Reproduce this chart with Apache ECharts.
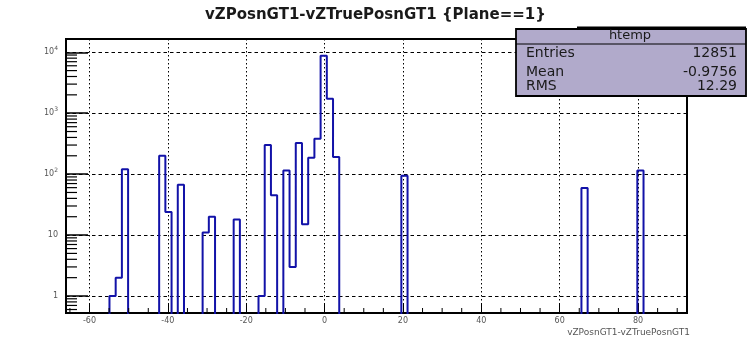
<!DOCTYPE html>
<html><head><meta charset="utf-8">
<script src="https://cdn.jsdelivr.net/npm/echarts@6/dist/echarts.min.js"></script>
<style>html,body{margin:0;padding:0;background:#fff}#c{width:751px;height:337px}</style>
</head><body><div id="c"></div>
<script>
// ---- text ----
const titleText = 'vZPosnGT1-vZTruePosnGT1 {Plane==1}';
const xAxisTitle = 'vZPosnGT1-vZTruePosnGT1';
const histName = 'htemp';
const statLabels = ['Entries', 'Mean', 'RMS'];
const statValues = ['12851', '-0.9756', '12.29'];

// ---- histogram binning & values ----
const xRange = [-66, 92.5];
const yRange = [0.526, 16500];
const nBins = 100;
const binIndex = [7, 8, 9, 15, 16, 18, 22, 23, 27, 31, 32, 33, 35, 36, 37, 38, 39, 40, 41, 42, 43, 54, 83, 92];
const binCount = [1, 2, 120, 200, 24, 67, 11, 20, 18, 1, 300, 45, 115, 3, 325, 15, 186, 382, 8800, 1720, 191, 94, 59, 115];

// ---- tick positions ----
const xMinorTicks = [-65, -55, -50, -45, -35, -30, -25, -15, -10, -5, 5, 10, 15, 25, 30, 35, 45, 50, 55, 65, 70, 75, 85, 90];
const yMinorTicks = [0.6, 0.7, 0.8, 0.9, 2, 3, 4, 5, 6, 7, 8, 9, 20, 30, 40, 50, 60, 70, 80, 90,
  200, 300, 400, 500, 600, 700, 800, 900, 2000, 3000, 4000, 5000, 6000, 7000, 8000, 9000];

// build step outline (empty bins drop below the axis floor and are clipped)
const binW = (xRange[1] - xRange[0]) / nBins;
const counts = new Array(nBins).fill(0);
binIndex.forEach((b, i) => { counts[b] = binCount[i]; });
const floorVal = 0.05;
const histPts = counts.map((c, i) => [xRange[0] + i * binW, c > 0 ? c : floorVal]);
histPts.push([xRange[1], floorVal]);

const FONT = 'DejaVu Sans';
const chart = echarts.init(document.getElementById('c'), null, {renderer: 'canvas'});

function supLabel(v) {
  const e = Math.round(Math.log10(v));
  if (e === 0) return '1';
  if (e === 1) return '10';
  return '10{sup|' + e + '}';
}

chart.setOption({
  animation: false,
  backgroundColor: '#fff',
  title: [
    {text: titleText, left: 'center', top: 8, padding: 0,
     textStyle: {fontFamily: FONT, fontWeight: 'bold', fontSize: 15, color: '#1a1a1a'}},
    {text: xAxisTitle, right: 61, top: 328, padding: 0,
     textStyle: {fontFamily: FONT, fontWeight: 'normal', fontSize: 9, color: '#555'}}
  ],
  grid: {left: 66, top: 39, width: 621, height: 274, show: true,
         borderColor: '#000', borderWidth: 2, backgroundColor: 'transparent'},
  xAxis: {
    type: 'value', min: xRange[0], max: xRange[1], splitNumber: 8,
    axisLine: {show: false, onZero: false},
    axisTick: {show: true, inside: true, length: 9, lineStyle: {color: '#000', width: 1}},
    axisLabel: {showMinLabel: false, showMaxLabel: false, fontFamily: FONT, fontSize: 8, color: '#555', margin: 4},
    splitLine: {show: true, lineStyle: {color: '#000', width: 1, type: [1.5, 2.5]}}
  },
  yAxis: {
    type: 'log', logBase: 10, min: yRange[0], max: yRange[1],
    axisLine: {show: false, onZero: false},
    axisTick: {show: true, inside: true, length: 22, lineStyle: {color: '#000', width: 1.5}},
    axisLabel: {showMinLabel: false, showMaxLabel: false, fontFamily: FONT, fontSize: 8, color: '#555', margin: 8,
      formatter: supLabel,
      rich: {sup: {fontFamily: FONT, fontSize: 6, color: '#555', padding: [0, 0, 7, 0]}}},
    splitLine: {show: true, lineStyle: {color: '#000', width: 1, type: [3.5, 3]}}
  },
  series: [
    {
      type: 'line', step: 'end', data: histPts, symbol: 'none', clip: true, z: 5,
      lineStyle: {color: '#1212a8', width: 2}
    },
    {
      type: 'custom', data: xMinorTicks.map(v => [v, 1]), z: 6, clip: false,
      renderItem: function (params, api) {
        const p = api.coord([api.value(0), 1]);
        const cs = params.coordSys;
        const yb = cs.y + cs.height;
        return {type: 'line', shape: {x1: p[0], y1: yb, x2: p[0], y2: yb - 5},
                style: {stroke: '#000', lineWidth: 1}};
      }
    },
    {
      type: 'custom', data: yMinorTicks.map(v => [0, v]), z: 6, clip: false,
      renderItem: function (params, api) {
        const p = api.coord([0, api.value(1)]);
        const cs = params.coordSys;
        return {type: 'line', shape: {x1: cs.x, y1: p[1], x2: cs.x + 11, y2: p[1]},
                style: {stroke: '#000', lineWidth: 1.2}};
      }
    }
  ],
  graphic: [
    {type: 'rect', z: 100, shape: {x: 516, y: 29, width: 230, height: 67},
     style: {fill: '#b1aacb', stroke: '#000', lineWidth: 1.8}},
    {type: 'line', z: 101, shape: {x1: 577, y1: 27.5, x2: 746, y2: 27.5}, style: {stroke: '#000', lineWidth: 2}},
    {type: 'line', z: 101, shape: {x1: 516, y1: 44, x2: 746, y2: 44}, style: {stroke: '#000', lineWidth: 1}},
    {type: 'text', z: 102, x: 630, y: 36,
     style: {text: histName, font: '13px "DejaVu Sans"', fill: '#1a1a1a', textAlign: 'center', textVerticalAlign: 'middle'}},
    {type: 'text', z: 102, x: 526, y: 53.5,
     style: {text: statLabels[0], font: '14px "DejaVu Sans"', fill: '#1a1a1a', textAlign: 'left', textVerticalAlign: 'middle'}},
    {type: 'text', z: 102, x: 526, y: 72,
     style: {text: statLabels[1], font: '14px "DejaVu Sans"', fill: '#1a1a1a', textAlign: 'left', textVerticalAlign: 'middle'}},
    {type: 'text', z: 102, x: 526, y: 86.5,
     style: {text: statLabels[2], font: '14px "DejaVu Sans"', fill: '#1a1a1a', textAlign: 'left', textVerticalAlign: 'middle'}},
    {type: 'text', z: 102, x: 737, y: 53.5,
     style: {text: statValues[0], font: '14px "DejaVu Sans"', fill: '#1a1a1a', textAlign: 'right', textVerticalAlign: 'middle'}},
    {type: 'text', z: 102, x: 737, y: 72,
     style: {text: statValues[1], font: '14px "DejaVu Sans"', fill: '#1a1a1a', textAlign: 'right', textVerticalAlign: 'middle'}},
    {type: 'text', z: 102, x: 737, y: 86.5,
     style: {text: statValues[2], font: '14px "DejaVu Sans"', fill: '#1a1a1a', textAlign: 'right', textVerticalAlign: 'middle'}}
  ]
});
</script>
</body></html>
